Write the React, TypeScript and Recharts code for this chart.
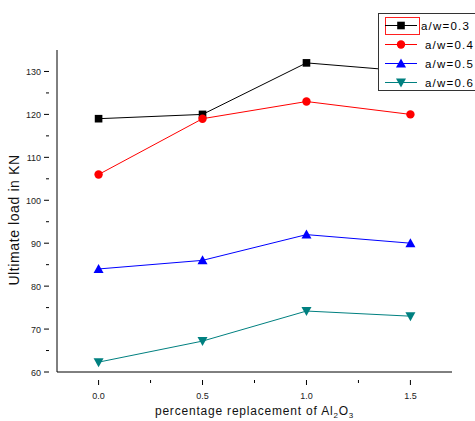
import React from "react";
import { LineChart, Line, XAxis, YAxis } from "recharts";

const categories = [0.0, 0.5, 1.0, 1.5];
const aw03 = [119, 120, 132, 130];
const aw04 = [106, 119, 123, 120];
const aw05 = [84, 86, 92, 90];
const aw06 = [62.3, 67.2, 74.2, 73];
const seriesNames = ["a/w=0.3", "a/w=0.4", "a/w=0.5", "a/w=0.6"];
const xTicks = [0, 0.25, 0.5, 0.75, 1.0, 1.25, 1.5];
const yTicks = [60, 65, 70, 75, 80, 85, 90, 95, 100, 105, 110, 115, 120, 125, 130];

const data = categories.map((x, i) => ({ x, s0: aw03[i], s1: aw04[i], s2: aw05[i], s3: aw06[i] }));

const series = [
  { key: "s0", color: "#000000", shape: "square" },
  { key: "s1", color: "#ff0000", shape: "circle" },
  { key: "s2", color: "#0000ff", shape: "triangle" },
  { key: "s3", color: "#008080", shape: "down" },
];

const FONT = "'Liberation Sans', Arial, sans-serif";

function Marker({ cx, cy, shape, color }: any) {
  if (cx == null || cy == null) return null;
  if (shape === "square") return <rect x={cx - 3.8} y={cy - 3.8} width={7.6} height={7.6} fill={color} />;
  if (shape === "circle") return <circle cx={cx} cy={cy} r={4.2} fill={color} />;
  if (shape === "triangle")
    return <polygon points={`${cx},${cy - 5} ${cx - 5},${cy + 4} ${cx + 5},${cy + 4}`} fill={color} />;
  return <polygon points={`${cx},${cy + 5} ${cx - 5},${cy - 4} ${cx + 5},${cy - 4}`} fill={color} />;
}

function XTick({ x, y, payload }: any) {
  const v = payload.value;
  const major = Math.abs((v * 2) % 1) < 1e-6;
  return (
    <g>
      <line x1={x} y1={y} x2={x} y2={y + (major ? 5 : 3)} stroke="#000" />
      {major && (
        <text x={x} y={y + 19} textAnchor="middle" fontSize={9} fill="#222" fontFamily={FONT}>
          {v.toFixed(1)}
        </text>
      )}
    </g>
  );
}

function YTick({ x, y, payload }: any) {
  const v = payload.value;
  const major = v % 10 === 0;
  return (
    <g>
      <line x1={x} y1={y} x2={x - (major ? 5 : 3)} y2={y} stroke="#000" />
      {major && (
        <text x={x - 8} y={y + 3.5} textAnchor="end" fontSize={9} fill="#222" fontFamily={FONT}>
          {v}
        </text>
      )}
    </g>
  );
}

function LegendBox() {
  return (
    <svg width={97} height={80} style={{ position: "absolute", left: 378, top: 13, display: "block" }}>
      <rect x={0.5} y={0.5} width={120} height={77} fill="#fff" stroke="#333" strokeWidth={1} />
      <rect x={7.5} y={4.5} width={34} height={17} fill="none" stroke="#ff2020" strokeWidth={1} />
      {series.map((s, i) => {
        const cy = 12.5 + i * 19;
        return (
          <g key={s.key}>
            <line x1={7} x2={39} y1={cy} y2={cy} stroke={s.color} strokeWidth={1} />
            <Marker cx={23} cy={cy} shape={s.shape} color={s.color} />
            <text x={i === 0 ? 43 : 47} y={cy + 4} fontSize={11.5} fontFamily={FONT} fill="#000" letterSpacing={1.2}>
              {seriesNames[i]}
            </text>
          </g>
        );
      })}
    </svg>
  );
}

export default function App() {
  return (
    <div style={{ position: "absolute", left: 0, top: 0, width: 475, height: 421, background: "#fff" }}>
      <LineChart width={475} height={421} data={data} margin={{ top: 50, right: 23, bottom: 0, left: 0 }}>
        <XAxis
          dataKey="x"
          type="number"
          domain={[-0.2, 1.7]}
          ticks={xTicks}
          tick={<XTick />}
          tickLine={false}
          axisLine={{ stroke: "#000" }}
          height={49}
          interval={0}
          allowDataOverflow
          label={({ viewBox }: any) => {
            const cx = viewBox.x + viewBox.width / 2;
            return (
              <text x={cx} y={viewBox.y + 43} textAnchor="middle" fontSize={12} fontFamily={FONT} fill="#111" letterSpacing={0.8}>
                percentage replacement of Al
                <tspan fontSize={8} dy={3}>2</tspan>
                <tspan dy={-3}>O</tspan>
                <tspan fontSize={8} dy={3}>3</tspan>
              </text>
            );
          }}
        />
        <YAxis
          type="number"
          domain={[60, 135]}
          ticks={yTicks}
          tick={<YTick />}
          tickLine={false}
          axisLine={{ stroke: "#000" }}
          width={57}
          interval={0}
          allowDataOverflow
          label={({ viewBox }: any) => {
            const cy = viewBox.y + viewBox.height / 2 + 9;
            return (
              <text x={19} y={cy} transform={`rotate(-90 19 ${cy})`} textAnchor="middle" fontSize={14} fontFamily={FONT} fill="#111" letterSpacing={0.6}>
                Ultimate load in KN
              </text>
            );
          }}
        />
        {series.map((s) => (
          <Line
            key={s.key}
            dataKey={s.key}
            stroke={s.color}
            strokeWidth={1}
            isAnimationActive={false}
            dot={(p: any) => <Marker key={p.index} cx={p.cx} cy={p.cy} shape={s.shape} color={s.color} />}
            activeDot={false}
          />
        ))}
      </LineChart>
      <LegendBox />
    </div>
  );
}
